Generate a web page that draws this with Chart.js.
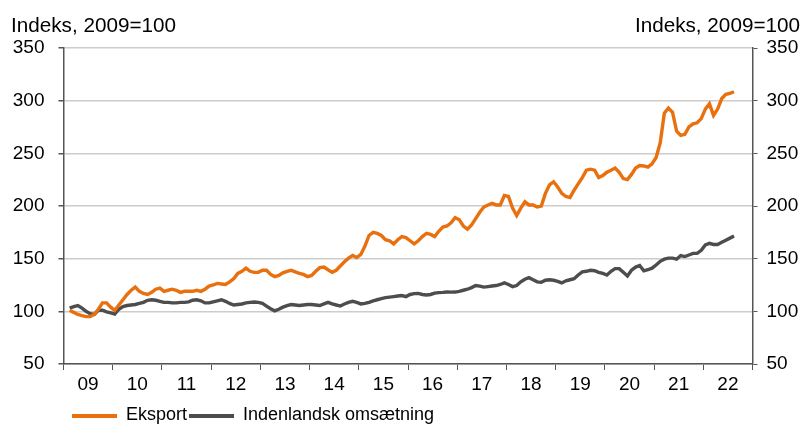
<!DOCTYPE html>
<html>
<head>
<meta charset="utf-8">
<script src="https://cdn.jsdelivr.net/npm/chart.js@4/dist/chart.umd.min.js"></script>
<style>
    body { margin: 0; background: #fff; font-family: "Liberation Sans", Arial, sans-serif; }
    #wrap { position: relative; width: 806px; height: 424px; overflow: hidden; }
    .titel { position: absolute; top: 15px; font-size: 20.7px; line-height: 20px; color: #000; white-space: nowrap; }
    .legend { position: absolute; top: 405px; font-size: 18px; line-height: 19px; color: #000; white-space: nowrap; }
    .swatch { position: absolute; top: 414px; height: 4px; }
</style>
</head>
<body>
<div id="wrap">
    <canvas id="chart_eksport"></canvas>
    <div class="titel" style="left: 11px;">Indeks, 2009=100</div>
    <div class="titel" style="right: 6px;">Indeks, 2009=100</div>
    <div class="swatch" style="left: 72px; width: 45px; background: #e8700e;"></div>
    <div class="legend" style="left: 126px;">Eksport</div>
    <div class="swatch" style="left: 189px; width: 45px; background: #4d4d4d;"></div>
    <div class="legend" style="left: 243px;">Indenlandsk omsætning</div>
</div>
<script>
// Månedlige værdier, februar 2009 til august 2022
const forsteMaaned = 1; // 0 = januar 2009
const aarLabels = ['09', '10', '11', '12', '13', '14', '15', '16', '17', '18', '19', '20', '21', '22'];

const eksport = [
    101, 99, 97, 96, 95, 95, 97, 102, 108, 108, 104, 101,
    106, 111, 116, 120, 123, 119, 117, 116, 118, 121, 122, 119,
    120, 121, 120, 118, 119, 119, 119, 120, 119, 121, 124, 125,
    126.5, 126, 125.5, 128, 131, 136, 138, 141, 138, 137, 137, 139,
    139, 135, 133, 134, 136.5, 138, 139, 137.5, 136, 135, 133, 134,
    138, 141.5, 142, 139.5, 137, 139, 143, 147, 150.5, 153, 151, 154,
    162, 172, 175, 174, 172, 168, 167, 164, 168, 171, 170,
    167, 164, 167, 171, 174, 173, 171, 176, 180, 181, 184, 189,
    187, 181, 178, 182, 188, 194, 199, 201, 202.5, 201, 201, 210,
    209, 198, 191, 198, 204, 201, 201, 199, 200, 212, 220, 223,
    218, 212, 209, 208, 215, 221, 227, 234, 235, 234, 227, 229,
    232, 234, 236, 232, 226, 225, 230, 236, 238.5, 238, 237, 240,
    246, 260, 288, 293, 289, 271, 267, 268, 275, 278, 279, 283,
    292, 297, 286, 292, 302, 306, 307, 308.5
];

const indenlandsk = [
    103, 104.5, 105.5, 103, 100, 97.8, 97, 101, 101, 99.5, 98.5, 97.5,
    102, 104.5, 105.5, 106, 106.5, 107.5, 108.5, 110.5, 111, 110.5, 109.5, 108.5,
    108.5, 108, 108, 108.5, 108.5, 109, 110.5, 111, 110, 108, 108, 109,
    110, 111, 109.5, 107.5, 106, 106.5, 107, 108, 108.5, 108.8, 108.5, 107.5,
    105, 102.5, 100.5, 102, 104, 105.5, 106.5, 106, 105.5, 106, 106.5, 106.5,
    106, 105.5, 107, 108.5, 107, 106, 105, 107, 108.5, 109.5, 108.5, 107,
    107.5, 108.5, 110, 111, 112, 113, 113.5, 114, 114.5, 115, 114,
    116, 116.8, 117, 116, 115.5, 116, 117.3, 117.8, 118, 118.3, 118.2, 118.3,
    119, 120, 121, 122.5, 124.5, 124, 123, 123.5, 124, 124.5, 125.5, 127,
    125.5, 123.5, 124.5, 128, 130.5, 132, 130, 128, 127.5, 129.5, 130, 129.5,
    128.5, 127, 129, 130, 131, 134.5, 137.5, 138, 139, 138.5, 137, 136,
    134.5, 138, 140.5, 140.5, 137, 133.5, 139, 142, 143.5, 138.5, 139.5, 141,
    144, 147.5, 149.5, 150.5, 150.5, 149.5, 153, 152, 153.5, 155, 155, 158,
    163, 164.5, 163.5, 163.5, 165.5, 167.5, 169.5, 171.5
];

const tilPunkter = (serie) => serie.map((v, i) => ({ x: forsteMaaned + i + 0.5, y: v }));

const aksefarve = '#555555';
const tekstFont = { family: '"Liberation Sans", Arial, sans-serif', size: 19 };

new Chart(document.getElementById('chart_eksport'), {
    type: 'line',
    data: {
        datasets: [{
            label: 'Eksport',
            data: tilPunkter(eksport),
            borderColor: '#e8700e',
            backgroundColor: '#e8700e',
            borderWidth: 3.4,
            pointRadius: 0,
            tension: 0
        },
        {
            label: 'Indenlandsk omsætning',
            data: tilPunkter(indenlandsk),
            borderColor: '#4d4d4d',
            backgroundColor: '#4d4d4d',
            borderWidth: 3.4,
            pointRadius: 0,
            tension: 0
        }]
    },
    options: {
        responsive: true,
        maintainAspectRatio: false,
        animation: false,
        layout: {
            padding: { top: 48, bottom: 32, left: 0, right: 0 }
        },
        scales: {
            x: {
                type: 'linear',
                min: 0,
                max: aarLabels.length * 12,
                afterFit: (s) => { s.height = 28; },
                border: { color: aksefarve, width: 1.5 },
                grid: {
                    drawOnChartArea: false,
                    tickLength: 6,
                    tickColor: (c) => (c.tick && c.tick.value % 12 === 0) ? aksefarve : 'rgba(0,0,0,0)'
                },
                ticks: {
                    stepSize: 6,
                    autoSkip: false,
                    maxRotation: 0,
                    padding: 3,
                    color: '#000',
                    font: tekstFont,
                    callback: (v) => v % 12 === 6 ? aarLabels[(v - 6) / 12] : ''
                }
            },
            y: {
                position: 'left',
                min: 50,
                max: 350,
                afterFit: (s) => { s.width = 63.5; },
                border: { color: aksefarve, width: 1.5 },
                grid: {
                    color: '#cccccc',
                    lineWidth: 1.5,
                    tickLength: 5,
                    tickColor: aksefarve
                },
                ticks: { stepSize: 50, padding: 14, color: '#000', font: tekstFont }
            },
            y2: {
                position: 'right',
                min: 50,
                max: 350,
                afterFit: (s) => { s.width = 53.5; },
                border: { color: aksefarve, width: 1.5 },
                grid: {
                    drawOnChartArea: false,
                    tickLength: 5,
                    tickColor: aksefarve
                },
                ticks: { stepSize: 50, padding: 9, color: '#000', font: tekstFont }
            }
        },
        plugins: {
            legend: { display: false },
            tooltip: { enabled: false }
        }
    }
});
</script>
</body>
</html>
